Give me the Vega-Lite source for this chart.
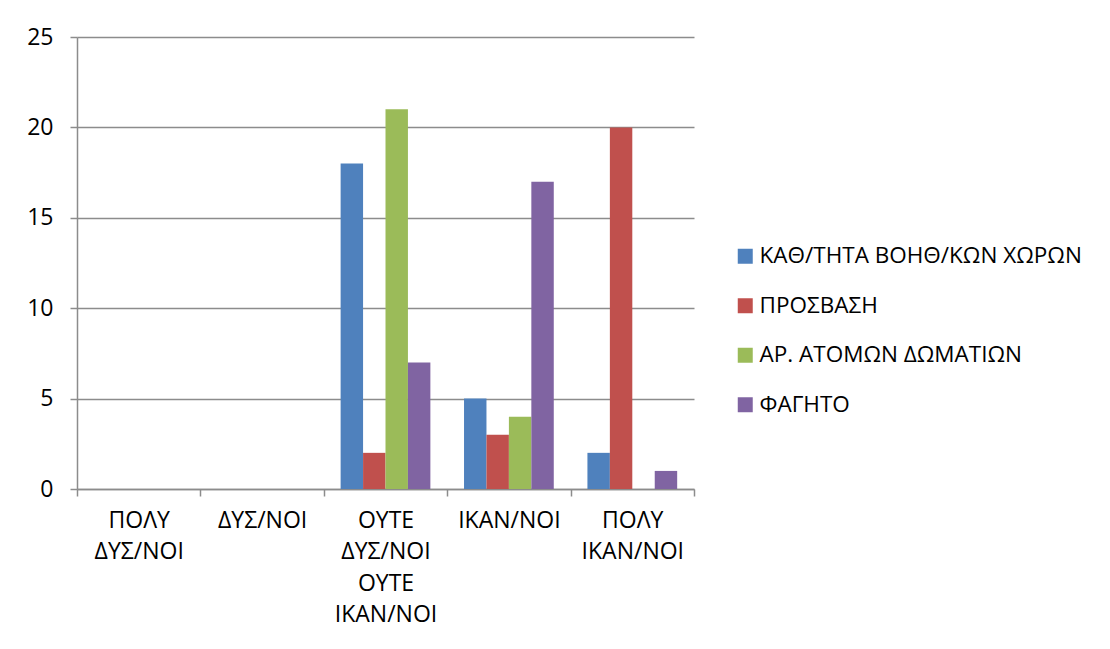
{
  "$schema": "https://vega.github.io/schema/vega-lite/v6.json",
  "autosize": {"type": "none"},
  "width": 617,
  "height": 452,
  "padding": {"left": 77, "top": 37, "right": 416, "bottom": 160},
  "background": "white",
  "data": {
    "values": [
      {"cat": "ΠΟΛΥ|ΔΥΣ/ΝΟΙ", "series": "ΚΑΘ/ΤΗΤΑ ΒΟΗΘ/ΚΩΝ ΧΩΡΩΝ", "value": 0},
      {"cat": "ΠΟΛΥ|ΔΥΣ/ΝΟΙ", "series": "ΠΡΟΣΒΑΣΗ", "value": 0},
      {"cat": "ΠΟΛΥ|ΔΥΣ/ΝΟΙ", "series": "ΑΡ. ΑΤΟΜΩΝ ΔΩΜΑΤΙΩΝ", "value": 0},
      {"cat": "ΠΟΛΥ|ΔΥΣ/ΝΟΙ", "series": "ΦΑΓΗΤΟ", "value": 0},
      {"cat": "ΔΥΣ/ΝΟΙ", "series": "ΚΑΘ/ΤΗΤΑ ΒΟΗΘ/ΚΩΝ ΧΩΡΩΝ", "value": 0},
      {"cat": "ΔΥΣ/ΝΟΙ", "series": "ΠΡΟΣΒΑΣΗ", "value": 0},
      {"cat": "ΔΥΣ/ΝΟΙ", "series": "ΑΡ. ΑΤΟΜΩΝ ΔΩΜΑΤΙΩΝ", "value": 0},
      {"cat": "ΔΥΣ/ΝΟΙ", "series": "ΦΑΓΗΤΟ", "value": 0},
      {"cat": "ΟΥΤΕ|ΔΥΣ/ΝΟΙ|ΟΥΤΕ|ΙΚΑΝ/ΝΟΙ", "series": "ΚΑΘ/ΤΗΤΑ ΒΟΗΘ/ΚΩΝ ΧΩΡΩΝ", "value": 18},
      {"cat": "ΟΥΤΕ|ΔΥΣ/ΝΟΙ|ΟΥΤΕ|ΙΚΑΝ/ΝΟΙ", "series": "ΠΡΟΣΒΑΣΗ", "value": 2},
      {"cat": "ΟΥΤΕ|ΔΥΣ/ΝΟΙ|ΟΥΤΕ|ΙΚΑΝ/ΝΟΙ", "series": "ΑΡ. ΑΤΟΜΩΝ ΔΩΜΑΤΙΩΝ", "value": 21},
      {"cat": "ΟΥΤΕ|ΔΥΣ/ΝΟΙ|ΟΥΤΕ|ΙΚΑΝ/ΝΟΙ", "series": "ΦΑΓΗΤΟ", "value": 7},
      {"cat": "ΙΚΑΝ/ΝΟΙ", "series": "ΚΑΘ/ΤΗΤΑ ΒΟΗΘ/ΚΩΝ ΧΩΡΩΝ", "value": 5},
      {"cat": "ΙΚΑΝ/ΝΟΙ", "series": "ΠΡΟΣΒΑΣΗ", "value": 3},
      {"cat": "ΙΚΑΝ/ΝΟΙ", "series": "ΑΡ. ΑΤΟΜΩΝ ΔΩΜΑΤΙΩΝ", "value": 4},
      {"cat": "ΙΚΑΝ/ΝΟΙ", "series": "ΦΑΓΗΤΟ", "value": 17},
      {"cat": "ΠΟΛΥ|ΙΚΑΝ/ΝΟΙ", "series": "ΚΑΘ/ΤΗΤΑ ΒΟΗΘ/ΚΩΝ ΧΩΡΩΝ", "value": 2},
      {"cat": "ΠΟΛΥ|ΙΚΑΝ/ΝΟΙ", "series": "ΠΡΟΣΒΑΣΗ", "value": 20},
      {"cat": "ΠΟΛΥ|ΙΚΑΝ/ΝΟΙ", "series": "ΑΡ. ΑΤΟΜΩΝ ΔΩΜΑΤΙΩΝ", "value": 0},
      {"cat": "ΠΟΛΥ|ΙΚΑΝ/ΝΟΙ", "series": "ΦΑΓΗΤΟ", "value": 1}
    ]
  },
  "mark": {"type": "bar"},
  "encoding": {
    "x": {
      "field": "cat",
      "type": "nominal",
      "sort": null,
      "scale": {"paddingInner": 0, "paddingOuter": 0},
      "axis": {
        "title": null,
        "labelAngle": 0,
        "labelExpr": "split(datum.label, '|')",
        "labelFont": "Open Sans",
        "labelFontSize": 23,
        "labelColor": "#000000",
        "labelBaseline": "top",
        "labelLineHeight": 31.5,
        "labelPadding": 13,
        "labelLimit": 200,
        "tickBand": "extent",
        "tickColor": "#8c8c8c",
        "tickWidth": 1.5,
        "tickSize": 7,
        "domainColor": "#8c8c8c",
        "domainWidth": 1.5,
        "grid": false
      }
    },
    "xOffset": {
      "field": "series",
      "type": "nominal",
      "sort": null,
      "scale": {"paddingInner": 0, "paddingOuter": 0.75}
    },
    "y": {
      "field": "value",
      "type": "quantitative",
      "scale": {"domain": [0, 25], "nice": false},
      "axis": {
        "title": null,
        "values": [0, 5, 10, 15, 20, 25],
        "labelFont": "Open Sans",
        "labelFontSize": 23,
        "labelColor": "#000000",
        "labelPadding": 17,
        "tickColor": "#8c8c8c",
        "tickWidth": 1.5,
        "tickSize": 7,
        "domainColor": "#8c8c8c",
        "domainWidth": 1.5,
        "grid": true,
        "gridColor": "#8c8c8c",
        "gridWidth": 1.5,
        "gridOpacity": 1
      }
    },
    "color": {
      "field": "series",
      "type": "nominal",
      "sort": null,
      "scale": {
        "domain": ["ΚΑΘ/ΤΗΤΑ ΒΟΗΘ/ΚΩΝ ΧΩΡΩΝ", "ΠΡΟΣΒΑΣΗ", "ΑΡ. ΑΤΟΜΩΝ ΔΩΜΑΤΙΩΝ", "ΦΑΓΗΤΟ"],
        "range": ["#4f81bd", "#c0504d", "#9bbb59", "#8064a2"]
      },
      "legend": {
        "title": null,
        "orient": "none",
        "legendX": 657,
        "legendY": 208,
        "symbolType": "square",
        "symbolSize": 225,
        "symbolStrokeWidth": 0,
        "labelFont": "Open Sans",
        "labelFontSize": 22.5,
        "labelColor": "#000000",
        "labelOffset": 3,
        "labelLimit": 400,
        "rowPadding": 26.5,
        "padding": 0
      }
    }
  },
  "config": {
    "view": {"stroke": null}
  }
}
